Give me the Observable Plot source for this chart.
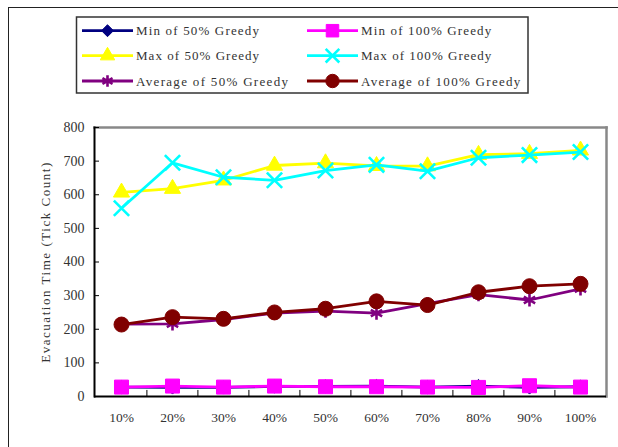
<!DOCTYPE html>
<html><head><meta charset="utf-8">
<script src="https://cdn.jsdelivr.net/npm/d3@7"></script>
<script src="https://cdn.jsdelivr.net/npm/@observablehq/plot@0.6"></script>
<style>
body{margin:0;background:#fff;}
#wrap{position:relative;width:618px;height:447px;overflow:hidden;}
#outer{position:absolute;left:8px;top:7px;width:620px;height:450px;border-top:1.5px solid #222;border-left:1.5px solid #222;}
#chart{position:absolute;left:0;top:0;}
</style>
</head><body>
<div id="wrap"><div id="outer"></div><div id="chart"></div></div>
<script>
const categories = ["10%","20%","30%","40%","50%","60%","70%","80%","90%","100%"];
const yTicks = [0,100,200,300,400,500,600,700,800];
const seriesNames = ["Min of 50% Greedy","Min of 100% Greedy","Max of 50% Greedy","Max of 100% Greedy","Average of 50% Greedy","Average of 100% Greedy"];
const min50 = [28,27,27,30,30,31,28,31,27,29];
const min100 = [28,31,28,31,29,29,28,27,32,28];
const max50 = [607,618,643,687,694,686,685,719,722,732];
const max100 = [560,695,652,643,672,689,670,710,718,727];
const avg50 = [215,216,229,248,254,248,276,303,287,320];
const avg100 = [214,236,231,250,261,283,272,310,328,335];
const yLabel = "Evacuation Time (Tick Count)";

const valuesList = [min50,min100,max50,max100,avg50,avg100];
const styles = [
  {color:"#000080", symbol:"diamond2", r:6, filled:true},
  {color:"#FF00FF", symbol:"square", r:7.9, filled:true},
  {color:"#FFFF00", symbol:"triangle", r:6, filled:true},
  {color:"#00FFFF", symbol:"times", r:7, filled:false},
  {color:"#800080", symbol:"asterisk", r:6.2, filled:false},
  {color:"#800000", symbol:"circle", r:7.5, filled:true}
];
const SERIF = "'Liberation Serif', 'Times New Roman', serif";
const CHAR_W = 7.3;

function spreadTo(sel, target) {
  sel.each(function() {
    const n = this.textContent.length;
    const w = this.getComputedTextLength();
    const ls = Math.max(0, (target(this.textContent) - w) / n);
    d3.select(this).style("letter-spacing", ls + "px");
  });
}

const marks = [];
const step = (618-94-12)/categories.length;
marks.push(Plot.ruleX(categories.slice(1), {x: d=>d, y1:0, y2:18, dx:-step/2, stroke:"#000", strokeWidth:1}));
seriesNames.forEach((name,i)=>{
  const data = categories.map((c,j)=>({cat:c, value:valuesList[i][j], name}));
  const st = styles[i];
  marks.push(Plot.line(data, {x:"cat", y:"value", stroke:st.color, strokeWidth:2.8}));
  marks.push(Plot.dot(data, {x:"cat", y:"value", symbol:()=>st.symbol, r:st.r,
    fill: st.filled ? st.color : "none", stroke: st.color, strokeWidth: st.filled ? 1 : 2.6}));
});
marks.push(Plot.frame({anchor:"top", stroke:"#888", strokeWidth:2.5}));
marks.push(Plot.frame({anchor:"right", stroke:"#888", strokeWidth:2.5}));
marks.push(Plot.ruleY([0], {stroke:"#000", strokeWidth:2}));
marks.push(Plot.frame({anchor:"left", stroke:"#000", strokeWidth:2}));
marks.push(Plot.axisY({ticks:yTicks, tickSize:-5, tickPadding:15, label:null, fontSize:14, fill:"#333"}));
marks.push(Plot.axisX({tickSize:0, tickPadding:16, label:null, fontSize:13.5, fill:"#333"}));
marks.push(Plot.text([yLabel], {text:d=>d, frameAnchor:"left", textAnchor:"middle", dx:-49, rotate:-90, fontSize:13, fill:"#333"}));

const plot = Plot.plot({
  width:618, height:447,
  marginTop:127, marginBottom:51, marginLeft:94, marginRight:12,
  x:{type:"point", domain:categories, padding:0.5},
  y:{domain:[0,800]},
  style:{background:"transparent", overflow:"visible", fontFamily:SERIF},
  marks
});
document.getElementById("chart").appendChild(plot);
const svg = d3.select(plot);
svg.selectAll("text").style("font-family", SERIF);

// legend
const lg = svg.append("g");
lg.append("rect").attr("x",76.5).attr("y",17).attr("width",451.5).attr("height",76)
  .attr("fill","#fff").attr("stroke","#333").attr("stroke-width",1.5);
const colX = [82,307];
const rowY = [30.7,55.7,81];
const symMap = {diamond2:d3.symbolDiamond2, square:d3.symbolSquare, triangle:d3.symbolTriangle, times:d3.symbolTimes, asterisk:d3.symbolAsterisk, circle:d3.symbolCircle};
seriesNames.forEach((name,i)=>{
  const col = i%2, row = Math.floor(i/2);
  const x0 = colX[col], y0 = rowY[row];
  const st = styles[i];
  const g = lg.append("g");
  g.append("line").attr("x1",x0).attr("x2",x0+51).attr("y1",y0).attr("y2",y0).attr("stroke",st.color).attr("stroke-width",2.8);
  const size = Math.PI*st.r*st.r*0.8;
  g.append("path").attr("d", d3.symbol(symMap[st.symbol], size)()).attr("transform",`translate(${x0+25.5},${y0})`)
    .attr("fill", st.filled?st.color:"none").attr("stroke",st.color).attr("stroke-width", st.filled?1:2.6);
  g.append("text").attr("class","lgtext").attr("x",x0+54).attr("y",y0+4.5).attr("text-anchor","start")
    .style("font-family",SERIF).style("font-size","13px").attr("fill","#333").text(name);
});
spreadTo(svg.selectAll("text.lgtext"), t => t.length*CHAR_W);
spreadTo(svg.selectAll("g[aria-label='text'] text"), t => t.length*7.2);
</script>
</body></html>
